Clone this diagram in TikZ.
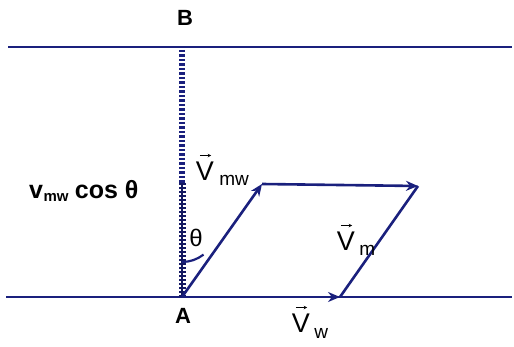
\documentclass[tikz,border=0pt]{standalone}
\usepackage{fontspec}
\setmainfont{Liberation Sans}
\usetikzlibrary{arrows.meta}
\definecolor{navy}{RGB}{26,32,125}
\begin{document}
\begin{tikzpicture}[x=1pt,y=-1pt,
  bank/.style={navy,line width=2.8pt},
  vec/.style={navy,line width=2.6pt,-{Stealth[length=12pt,width=10pt]}},
  seg/.style={navy,line width=2.6pt},
  lbl/.style={inner sep=0pt,font=\fontsize{27}{29}\selectfont},
  sub/.style={inner sep=0pt,font=\fontsize{19}{21}\selectfont},
  pt/.style={inner sep=0pt,font=\bfseries\fontsize{22}{24}\selectfont},
  cmp/.style={inner sep=0pt,font=\bfseries\fontsize{25}{27}\selectfont},
  cmpsub/.style={inner sep=0pt,font=\bfseries\fontsize{15}{16}\selectfont},
  overarrow/.style={black,line width=0.9pt,-{Stealth[length=3.5pt,width=3.5pt]}}]
\useasboundingbox (0,0) rectangle (514,347);
% banks
\coordinate (tl) at (8,47);
\coordinate (tr) at (512,47);
\coordinate (bl) at (6,297);
\coordinate (br) at (512,297);
\draw[bank] (tl) -- (tr);
\draw[bank] (bl) -- (br);
% points
\coordinate (A) at (182,297);
\coordinate (Bp) at (182,50);
\coordinate (M) at (182,183);
\coordinate (P) at (262,184);
\coordinate (Q) at (340,297);
\coordinate (R) at (418,186);
\coordinate (arcstart) at (182,262);
% vertical dashed line
\draw[navy,line width=6pt,dash pattern=on 2.5pt off 2pt] (Bp) -- (M);
\draw[navy!80!black,line width=7pt,dash pattern=on 2.5pt off 1.5pt] (M) -- (A);
\draw[navy!75!black,line width=2.5pt] (M) -- (A);
% vectors
\draw[vec] (A) -- (P);
\draw[vec] (P) -- (R);
\draw[seg] (Q) -- (R);
\draw[vec] (A) -- (Q);
% angle
\draw[navy,line width=2.2pt] (arcstart) arc[start angle=90,end angle=52,radius=35];
% labels
\node[pt] (lA) at (183,316) {A};
\node[pt] (lB) at (185,18) {B};
\node[inner sep=0pt,font=\fontsize{24}{26}\selectfont] (th) at (196,238) {θ};
\node[lbl] (vmw) at (205,171) {V};
\node[sub,anchor=base west] (vmws) at ([xshift=5pt]vmw.base east) [yshift=-5pt] {mw};
\node[lbl] (vm) at (346,241) {V};
\node[sub,anchor=base west] (vms) at ([xshift=4pt]vm.base east) [yshift=-5pt] {m};
\node[lbl] (vw) at (301,323) {V};
\node[sub,anchor=base west] (vws) at ([xshift=4pt]vw.base east) [yshift=-6pt] {w};
\draw[overarrow] ([xshift=4pt,yshift=6pt]vmw.north west) -- ([xshift=-3pt,yshift=6pt]vmw.north east);
\draw[overarrow] ([xshift=4pt,yshift=6pt]vm.north west) -- ([xshift=-3pt,yshift=6pt]vm.north east);
\draw[overarrow] ([xshift=4pt,yshift=6pt]vw.north west) -- ([xshift=-3pt,yshift=6pt]vw.north east);
\node[cmp,anchor=base west] (cv) at (29,199) {v};
\node[cmpsub,anchor=base west] (cvs) at (cv.base east) [yshift=-3pt] {mw};
\node[cmp,anchor=base west] (ccos) at (cvs.base east) [xshift=6pt,yshift=3pt] {cos θ};
\end{tikzpicture}
\end{document}
